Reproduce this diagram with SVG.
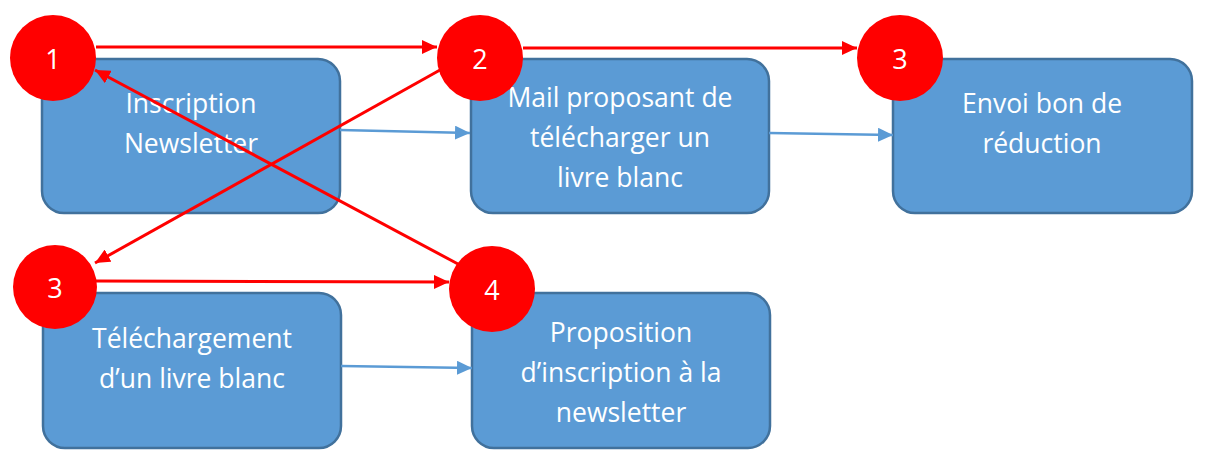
<svg xmlns="http://www.w3.org/2000/svg" width="1218" height="470" viewBox="0 0 1218 470">
<style>
.box{fill:#5B9BD5;stroke:#41719C;stroke-width:2.5}
.lbl{fill:#fff;font-family:"Open Sans","Liberation Sans",Arial,sans-serif;font-size:26.5px;text-anchor:middle}
.num{fill:#fff;font-family:"Open Sans","Liberation Sans",Arial,sans-serif;font-size:27px;text-anchor:middle}
.dot{fill:#FF0000}
.blue{stroke:#5B9BD5;stroke-width:2.5;fill:none;marker-end:url(#ab)}
.red{stroke:#FF0000;stroke-width:3;fill:none;marker-end:url(#ar)}
</style>
<defs>
<marker id="ab" markerUnits="userSpaceOnUse" markerWidth="16" markerHeight="14" refX="15" refY="7" orient="auto"><path d="M0,0 L15,7 L0,14 Z" fill="#5B9BD5"/></marker>
<marker id="ar" markerUnits="userSpaceOnUse" markerWidth="16" markerHeight="14" refX="15" refY="7" orient="auto"><path d="M0,0 L15,7 L0,14 Z" fill="#FF0000"/></marker>
</defs>
<rect width="1218" height="470" fill="#fff"/>
<g id="node-inscription"><rect class="box" x="42" y="59" width="298" height="154" rx="22"/><text class="lbl" x="191" y="113">Inscription</text><text class="lbl" x="191" y="153">Newsletter</text></g>
<g id="node-mail"><rect class="box" x="471" y="59" width="298" height="154" rx="22"/><text class="lbl" x="620" y="107">Mail proposant de</text><text class="lbl" x="620" y="147">télécharger un</text><text class="lbl" x="620" y="187">livre blanc</text></g>
<g id="node-envoi"><rect class="box" x="893" y="59" width="299" height="154" rx="22"/><text class="lbl" x="1042" y="113">Envoi bon de</text><text class="lbl" x="1042" y="153">réduction</text></g>
<g id="node-telechargement"><rect class="box" x="43" y="293" width="298" height="155" rx="22"/><text class="lbl" x="192" y="348">Téléchargement</text><text class="lbl" x="192" y="388">d’un livre blanc</text></g>
<g id="node-proposition"><rect class="box" x="472" y="293" width="298" height="155" rx="22"/><text class="lbl" x="621" y="342">Proposition</text><text class="lbl" x="621" y="382">d’inscription à la</text><text class="lbl" x="621" y="422">newsletter</text></g>
<g id="connectors">
<line class="blue" x1="340" y1="130" x2="470" y2="133"/>
<line class="blue" x1="769" y1="133" x2="893" y2="135"/>
<line class="blue" x1="341" y1="366" x2="472" y2="368"/>
<line class="red" x1="96" y1="47" x2="437" y2="47"/>
<line class="red" x1="523" y1="48" x2="857" y2="48"/>
<line class="red" x1="440" y1="70" x2="95" y2="263"/>
<line class="red" x1="458" y1="264" x2="95" y2="70"/>
<line class="red" x1="96" y1="281" x2="449" y2="282"/>
</g>
<g id="step-1"><circle class="dot" cx="53" cy="58" r="43"/><text class="num" x="53" y="69">1</text></g>
<g id="step-2"><circle class="dot" cx="480" cy="58" r="43"/><text class="num" x="480" y="69">2</text></g>
<g id="step-3a"><circle class="dot" cx="900" cy="58" r="43"/><text class="num" x="900" y="69">3</text></g>
<g id="step-3b"><circle class="dot" cx="55" cy="287" r="42"/><text class="num" x="55" y="298">3</text></g>
<g id="step-4"><circle class="dot" cx="492" cy="289" r="43"/><text class="num" x="492" y="300">4</text></g>
</svg>
